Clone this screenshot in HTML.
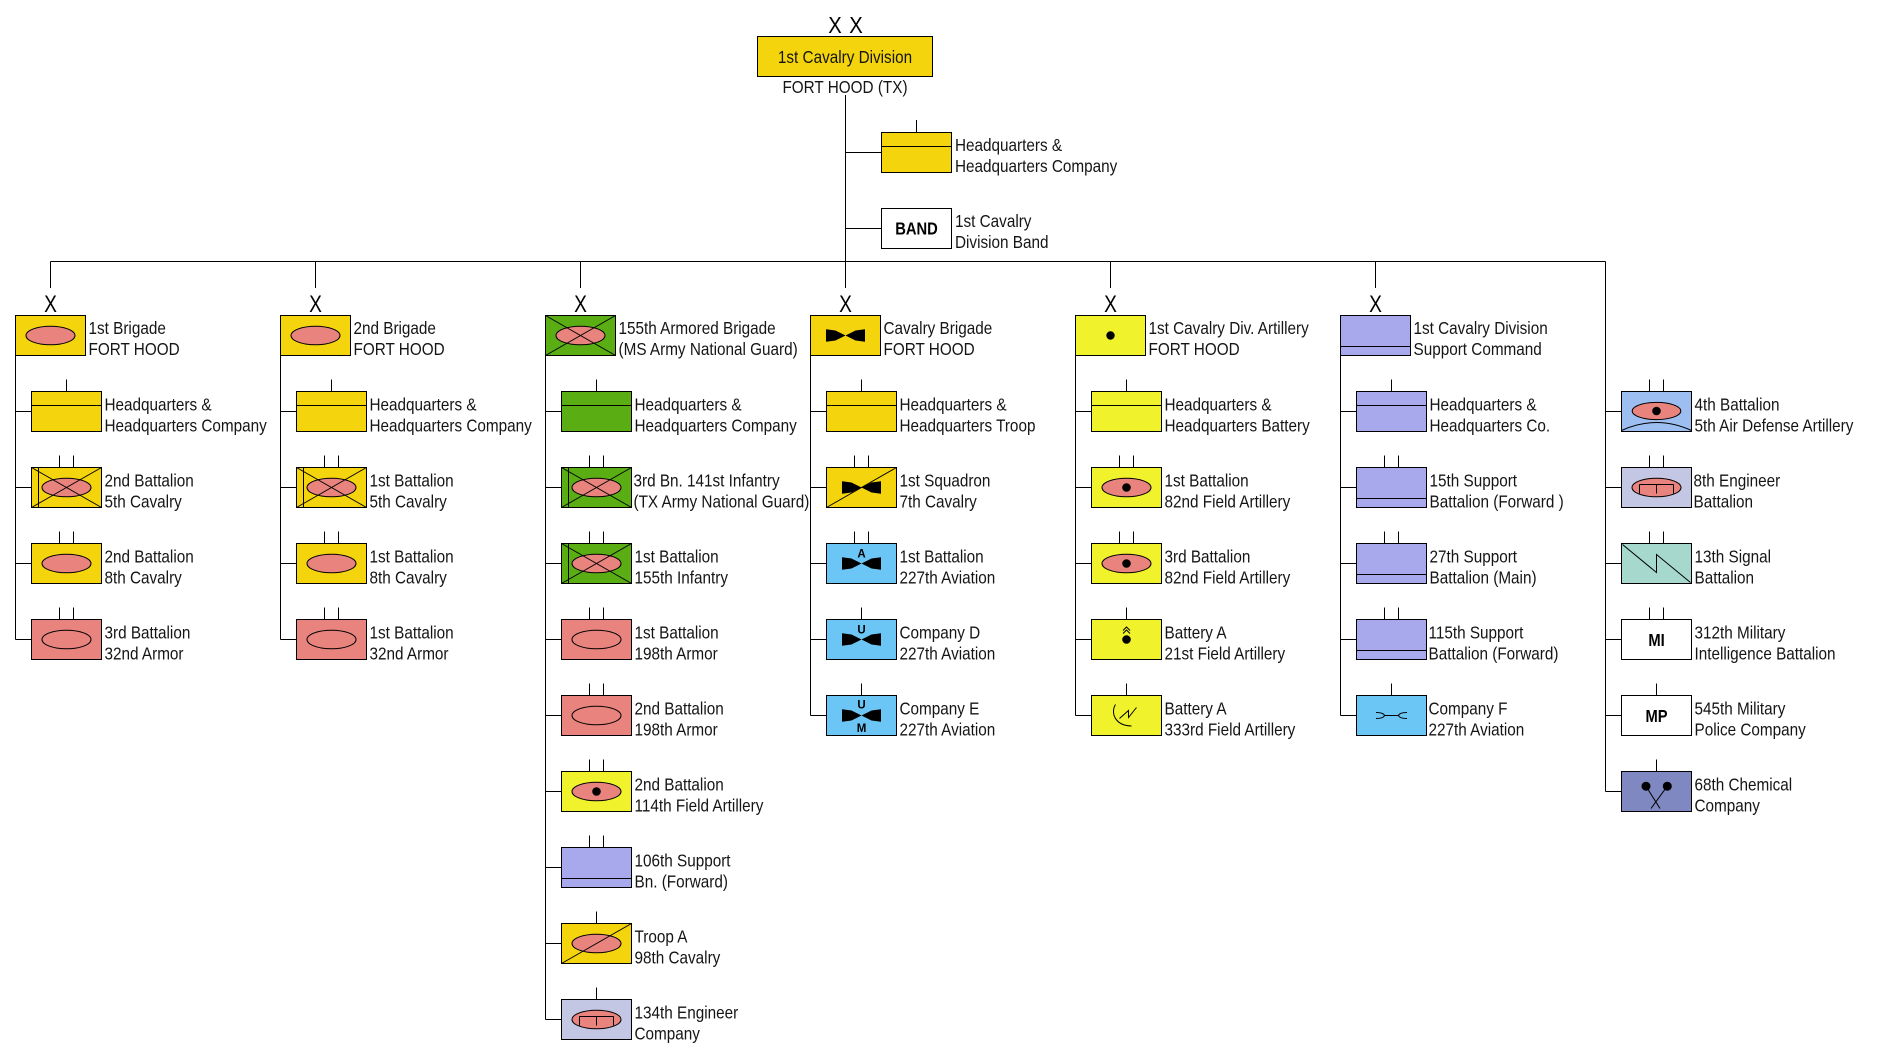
<!DOCTYPE html>
<html><head><meta charset="utf-8"><style>
html,body{margin:0;padding:0;background:#fff;}
svg{display:block;}
rect,line,ellipse,path,polyline{stroke:#000;stroke-width:1;}
line,path,polyline{fill:none;}
.t{font-family:"Liberation Sans",Arial,sans-serif;font-size:18px;fill:#151515;}
.bx{font-family:"Liberation Sans",Arial,sans-serif;font-size:24px;fill:#000;text-anchor:middle;}
.dx{font-family:"Liberation Sans",Arial,sans-serif;font-size:23px;fill:#000;text-anchor:middle;}
.b{font-family:"Liberation Sans",Arial,sans-serif;font-weight:bold;font-size:18px;fill:#000;text-anchor:middle;}
.al{font-family:"Liberation Sans",Arial,sans-serif;font-weight:bold;font-size:11.5px;fill:#000;text-anchor:middle;}
.g{fill:#F4D40C}.l{fill:#F0F22C}.s{fill:#E8837E}.gr{fill:#5AAE14}.lv{fill:#A8A8EC}
.av{fill:#6CC6F5}.ad{fill:#9CBEF0}.en{fill:#C3C7E4}.sg{fill:#A6D8CD}.ch{fill:#7F88C0}.w{fill:#fff}
.bt{fill:#000;stroke:none}
</style></head><body>
<svg width="1879" height="1052" viewBox="0 0 1879 1052" xmlns="http://www.w3.org/2000/svg">

<!-- Division -->
<text class="dx" transform="translate(835 33) scale(.88 1)">X</text>
<text class="dx" transform="translate(856 33) scale(.88 1)">X</text>
<rect x="757.5" y="36.5" width="175" height="40" class="g"/>
<text class="t" text-anchor="middle" transform="translate(845 63) scale(.85 1)">1st Cavalry Division</text>
<text class="t" text-anchor="middle" transform="translate(845 93) scale(.85 1)">FORT HOOD (TX)</text>
<line x1="845.5" y1="95" x2="845.5" y2="288"/>
<line x1="845.5" y1="152.5" x2="881.5" y2="152.5"/>
<line x1="916.5" y1="120" x2="916.5" y2="132.5"/>
<rect x="881.5" y="132.5" width="70" height="40" class="g"/>
<line x1="881.5" y1="146.5" x2="951.5" y2="146.5"/>
<text class="t" transform="translate(955 151) scale(.85 1)"><tspan x="0">Headquarters &amp;</tspan><tspan x="0" dy="21">Headquarters Company</tspan></text>
<line x1="845.5" y1="228.5" x2="881.5" y2="228.5"/>
<rect x="881.5" y="208.5" width="70" height="40" class="w"/>
<text class="b" transform="translate(916.5 234.5) scale(.82 1)">BAND</text>
<text class="t" transform="translate(955 227) scale(.85 1)"><tspan x="0">1st Cavalry</tspan><tspan x="0" dy="21">Division Band</tspan></text>
<line x1="50.5" y1="261.5" x2="1605.5" y2="261.5"/>

<!-- Column 1 -->
<g transform="translate(15.5 0)">
<line x1="35" y1="261.5" x2="35" y2="288"/>
<text class="bx" transform="translate(35 312) scale(.8 1)">X</text>
<rect x="0" y="315.5" width="70" height="40" class="g"/>
<ellipse cx="35" cy="335.5" rx="24.5" ry="9.3" class="s"/>
<text class="t" transform="translate(73 334) scale(.85 1)"><tspan x="0">1st Brigade</tspan><tspan x="0" dy="21">FORT HOOD</tspan></text>
<line x1="0" y1="355.5" x2="0" y2="639.5"/>
<g transform="translate(0 391.5)">
<line x1="0" y1="20" x2="16" y2="20"/><line x1="51" y1="-12" x2="51" y2="0"/>
<rect x="16" y="0" width="70" height="40" class="g"/><line x1="16" y1="14" x2="86" y2="14"/>
<text class="t" transform="translate(89 19) scale(.85 1)"><tspan x="0">Headquarters &amp;</tspan><tspan x="0" dy="21">Headquarters Company</tspan></text>
</g>
<g transform="translate(0 467.5)">
<line x1="0" y1="20" x2="16" y2="20"/><line x1="44" y1="-12" x2="44" y2="0"/><line x1="58" y1="-12" x2="58" y2="0"/>
<rect x="16" y="0" width="70" height="40" class="g"/>
<ellipse cx="51" cy="20" rx="24.5" ry="9.3" class="s"/>
<line x1="16" y1="0" x2="86" y2="40"/><line x1="16" y1="40" x2="86" y2="0"/><line x1="23" y1="0" x2="23" y2="40"/>
<text class="t" transform="translate(89 19) scale(.85 1)"><tspan x="0">2nd Battalion</tspan><tspan x="0" dy="21">5th Cavalry</tspan></text>
</g>
<g transform="translate(0 543.5)">
<line x1="0" y1="20" x2="16" y2="20"/><line x1="44" y1="-12" x2="44" y2="0"/><line x1="58" y1="-12" x2="58" y2="0"/>
<rect x="16" y="0" width="70" height="40" class="g"/>
<ellipse cx="51" cy="20" rx="24.5" ry="9.3" class="s"/>
<text class="t" transform="translate(89 19) scale(.85 1)"><tspan x="0">2nd Battalion</tspan><tspan x="0" dy="21">8th Cavalry</tspan></text>
</g>
<g transform="translate(0 619.5)">
<line x1="0" y1="20" x2="16" y2="20"/><line x1="44" y1="-12" x2="44" y2="0"/><line x1="58" y1="-12" x2="58" y2="0"/>
<rect x="16" y="0" width="70" height="40" class="s"/>
<ellipse cx="51" cy="20" rx="24.5" ry="9.3" class="s"/>
<text class="t" transform="translate(89 19) scale(.85 1)"><tspan x="0">3rd Battalion</tspan><tspan x="0" dy="21">32nd Armor</tspan></text>
</g>
</g>

<!-- Column 2 -->
<g transform="translate(280.5 0)">
<line x1="35" y1="261.5" x2="35" y2="288"/>
<text class="bx" transform="translate(35 312) scale(.8 1)">X</text>
<rect x="0" y="315.5" width="70" height="40" class="g"/>
<ellipse cx="35" cy="335.5" rx="24.5" ry="9.3" class="s"/>
<text class="t" transform="translate(73 334) scale(.85 1)"><tspan x="0">2nd Brigade</tspan><tspan x="0" dy="21">FORT HOOD</tspan></text>
<line x1="0" y1="355.5" x2="0" y2="639.5"/>
<g transform="translate(0 391.5)">
<line x1="0" y1="20" x2="16" y2="20"/><line x1="51" y1="-12" x2="51" y2="0"/>
<rect x="16" y="0" width="70" height="40" class="g"/><line x1="16" y1="14" x2="86" y2="14"/>
<text class="t" transform="translate(89 19) scale(.85 1)"><tspan x="0">Headquarters &amp;</tspan><tspan x="0" dy="21">Headquarters Company</tspan></text>
</g>
<g transform="translate(0 467.5)">
<line x1="0" y1="20" x2="16" y2="20"/><line x1="44" y1="-12" x2="44" y2="0"/><line x1="58" y1="-12" x2="58" y2="0"/>
<rect x="16" y="0" width="70" height="40" class="g"/>
<ellipse cx="51" cy="20" rx="24.5" ry="9.3" class="s"/>
<line x1="16" y1="0" x2="86" y2="40"/><line x1="16" y1="40" x2="86" y2="0"/><line x1="23" y1="0" x2="23" y2="40"/>
<text class="t" transform="translate(89 19) scale(.85 1)"><tspan x="0">1st Battalion</tspan><tspan x="0" dy="21">5th Cavalry</tspan></text>
</g>
<g transform="translate(0 543.5)">
<line x1="0" y1="20" x2="16" y2="20"/><line x1="44" y1="-12" x2="44" y2="0"/><line x1="58" y1="-12" x2="58" y2="0"/>
<rect x="16" y="0" width="70" height="40" class="g"/>
<ellipse cx="51" cy="20" rx="24.5" ry="9.3" class="s"/>
<text class="t" transform="translate(89 19) scale(.85 1)"><tspan x="0">1st Battalion</tspan><tspan x="0" dy="21">8th Cavalry</tspan></text>
</g>
<g transform="translate(0 619.5)">
<line x1="0" y1="20" x2="16" y2="20"/><line x1="44" y1="-12" x2="44" y2="0"/><line x1="58" y1="-12" x2="58" y2="0"/>
<rect x="16" y="0" width="70" height="40" class="s"/>
<ellipse cx="51" cy="20" rx="24.5" ry="9.3" class="s"/>
<text class="t" transform="translate(89 19) scale(.85 1)"><tspan x="0">1st Battalion</tspan><tspan x="0" dy="21">32nd Armor</tspan></text>
</g>
</g>

<!-- Column 3 -->
<g transform="translate(545.5 0)">
<line x1="35" y1="261.5" x2="35" y2="288"/>
<text class="bx" transform="translate(35 312) scale(.8 1)">X</text>
<rect x="0" y="315.5" width="70" height="40" class="gr"/>
<ellipse cx="35" cy="335.5" rx="24.5" ry="9.3" class="s"/>
<line x1="0" y1="315.5" x2="70" y2="355.5"/><line x1="0" y1="355.5" x2="70" y2="315.5"/>
<text class="t" transform="translate(73 334) scale(.85 1)"><tspan x="0">155th Armored Brigade</tspan><tspan x="0" dy="21">(MS Army National Guard)</tspan></text>
<line x1="0" y1="355.5" x2="0" y2="1019.5"/>
<g transform="translate(0 391.5)">
<line x1="0" y1="20" x2="16" y2="20"/><line x1="51" y1="-12" x2="51" y2="0"/>
<rect x="16" y="0" width="70" height="40" class="gr"/><line x1="16" y1="14" x2="86" y2="14"/>
<text class="t" transform="translate(89 19) scale(.85 1)"><tspan x="0">Headquarters &amp;</tspan><tspan x="0" dy="21">Headquarters Company</tspan></text>
</g>
<g transform="translate(0 467.5)">
<line x1="0" y1="20" x2="16" y2="20"/><line x1="44" y1="-12" x2="44" y2="0"/><line x1="58" y1="-12" x2="58" y2="0"/>
<rect x="16" y="0" width="70" height="40" class="gr"/>
<ellipse cx="51" cy="20" rx="24.5" ry="9.3" class="s"/>
<line x1="16" y1="0" x2="86" y2="40"/><line x1="16" y1="40" x2="86" y2="0"/><line x1="23" y1="0" x2="23" y2="40"/>
<text class="t" transform="translate(88 19) scale(.85 1)"><tspan x="0">3rd Bn. 141st Infantry</tspan><tspan x="0" dy="21">(TX Army National Guard)</tspan></text>
</g>
<g transform="translate(0 543.5)">
<line x1="0" y1="20" x2="16" y2="20"/><line x1="44" y1="-12" x2="44" y2="0"/><line x1="58" y1="-12" x2="58" y2="0"/>
<rect x="16" y="0" width="70" height="40" class="gr"/>
<ellipse cx="51" cy="20" rx="24.5" ry="9.3" class="s"/>
<line x1="16" y1="0" x2="86" y2="40"/><line x1="16" y1="40" x2="86" y2="0"/><line x1="23" y1="0" x2="23" y2="40"/>
<text class="t" transform="translate(89 19) scale(.85 1)"><tspan x="0">1st Battalion</tspan><tspan x="0" dy="21">155th Infantry</tspan></text>
</g>
<g transform="translate(0 619.5)">
<line x1="0" y1="20" x2="16" y2="20"/><line x1="44" y1="-12" x2="44" y2="0"/><line x1="58" y1="-12" x2="58" y2="0"/>
<rect x="16" y="0" width="70" height="40" class="s"/>
<ellipse cx="51" cy="20" rx="24.5" ry="9.3" class="s"/>
<text class="t" transform="translate(89 19) scale(.85 1)"><tspan x="0">1st Battalion</tspan><tspan x="0" dy="21">198th Armor</tspan></text>
</g>
<g transform="translate(0 695.5)">
<line x1="0" y1="20" x2="16" y2="20"/><line x1="44" y1="-12" x2="44" y2="0"/><line x1="58" y1="-12" x2="58" y2="0"/>
<rect x="16" y="0" width="70" height="40" class="s"/>
<ellipse cx="51" cy="20" rx="24.5" ry="9.3" class="s"/>
<text class="t" transform="translate(89 19) scale(.85 1)"><tspan x="0">2nd Battalion</tspan><tspan x="0" dy="21">198th Armor</tspan></text>
</g>
<g transform="translate(0 771.5)">
<line x1="0" y1="20" x2="16" y2="20"/><line x1="44" y1="-12" x2="44" y2="0"/><line x1="58" y1="-12" x2="58" y2="0"/>
<rect x="16" y="0" width="70" height="40" class="l"/>
<ellipse cx="51" cy="20" rx="24.5" ry="9.3" class="s"/>
<circle cx="51" cy="20" r="4.3" fill="#000"/>
<text class="t" transform="translate(89 19) scale(.85 1)"><tspan x="0">2nd Battalion</tspan><tspan x="0" dy="21">114th Field Artillery</tspan></text>
</g>
<g transform="translate(0 847.5)">
<line x1="0" y1="20" x2="16" y2="20"/><line x1="44" y1="-12" x2="44" y2="0"/><line x1="58" y1="-12" x2="58" y2="0"/>
<rect x="16" y="0" width="70" height="40" class="lv"/><line x1="16" y1="31" x2="86" y2="31"/>
<text class="t" transform="translate(89 19) scale(.85 1)"><tspan x="0">106th Support</tspan><tspan x="0" dy="21">Bn. (Forward)</tspan></text>
</g>
<g transform="translate(0 923.5)">
<line x1="0" y1="20" x2="16" y2="20"/><line x1="51" y1="-12" x2="51" y2="0"/>
<rect x="16" y="0" width="70" height="40" class="g"/>
<ellipse cx="51" cy="20" rx="24.5" ry="9.3" class="s"/>
<line x1="16" y1="40" x2="86" y2="0"/>
<text class="t" transform="translate(89 19) scale(.85 1)"><tspan x="0">Troop A</tspan><tspan x="0" dy="21">98th Cavalry</tspan></text>
</g>
<g transform="translate(0 999.5)">
<line x1="0" y1="20" x2="16" y2="20"/><line x1="51" y1="-12" x2="51" y2="0"/>
<rect x="16" y="0" width="70" height="40" class="en"/>
<ellipse cx="51" cy="20" rx="24.5" ry="9.3" class="s"/>
<path d="M34 17 H68 M34 17 V26 M51 17 V26 M68 17 V26"/>
<text class="t" transform="translate(89 19) scale(.85 1)"><tspan x="0">134th Engineer</tspan><tspan x="0" dy="21">Company</tspan></text>
</g>
</g>

<!-- Column 4 -->
<g transform="translate(810.5 0)">
<text class="bx" transform="translate(35 312) scale(.8 1)">X</text>
<rect x="0" y="315.5" width="70" height="40" class="g"/>
<path class="bt" d="M15.5 329.2 L25 330.5 L35 335.5 L25 340.5 L15.5 341.8 Z M54.5 329.2 L45 330.5 L35 335.5 L45 340.5 L54.5 341.8 Z"/>
<text class="t" transform="translate(73 334) scale(.85 1)"><tspan x="0">Cavalry Brigade</tspan><tspan x="0" dy="21">FORT HOOD</tspan></text>
<line x1="0" y1="355.5" x2="0" y2="715.5"/>
<g transform="translate(0 391.5)">
<line x1="0" y1="20" x2="16" y2="20"/><line x1="51" y1="-12" x2="51" y2="0"/>
<rect x="16" y="0" width="70" height="40" class="g"/><line x1="16" y1="14" x2="86" y2="14"/>
<text class="t" transform="translate(89 19) scale(.85 1)"><tspan x="0">Headquarters &amp;</tspan><tspan x="0" dy="21">Headquarters Troop</tspan></text>
</g>
<g transform="translate(0 467.5)">
<line x1="0" y1="20" x2="16" y2="20"/><line x1="44" y1="-12" x2="44" y2="0"/><line x1="58" y1="-12" x2="58" y2="0"/>
<rect x="16" y="0" width="70" height="40" class="g"/>
<path class="bt" d="M31.5 13.7 L41 15 L51 20 L41 25 L31.5 26.3 Z M70.5 13.7 L61 15 L51 20 L61 25 L70.5 26.3 Z"/>
<line x1="16" y1="40" x2="86" y2="0"/>
<text class="t" transform="translate(89 19) scale(.85 1)"><tspan x="0">1st Squadron</tspan><tspan x="0" dy="21">7th Cavalry</tspan></text>
</g>
<g transform="translate(0 543.5)">
<line x1="0" y1="20" x2="16" y2="20"/><line x1="44" y1="-12" x2="44" y2="0"/><line x1="58" y1="-12" x2="58" y2="0"/>
<rect x="16" y="0" width="70" height="40" class="av"/>
<path class="bt" d="M31.5 13.7 L41 15 L51 20 L41 25 L31.5 26.3 Z M70.5 13.7 L61 15 L51 20 L61 25 L70.5 26.3 Z"/>
<text class="al" x="51" y="14">A</text>
<text class="t" transform="translate(89 19) scale(.85 1)"><tspan x="0">1st Battalion</tspan><tspan x="0" dy="21">227th Aviation</tspan></text>
</g>
<g transform="translate(0 619.5)">
<line x1="0" y1="20" x2="16" y2="20"/><line x1="51" y1="-12" x2="51" y2="0"/>
<rect x="16" y="0" width="70" height="40" class="av"/>
<path class="bt" d="M31.5 13.7 L41 15 L51 20 L41 25 L31.5 26.3 Z M70.5 13.7 L61 15 L51 20 L61 25 L70.5 26.3 Z"/>
<text class="al" x="51" y="14">U</text>
<text class="t" transform="translate(89 19) scale(.85 1)"><tspan x="0">Company D</tspan><tspan x="0" dy="21">227th Aviation</tspan></text>
</g>
<g transform="translate(0 695.5)">
<line x1="0" y1="20" x2="16" y2="20"/><line x1="51" y1="-12" x2="51" y2="0"/>
<rect x="16" y="0" width="70" height="40" class="av"/>
<path class="bt" d="M31.5 13.7 L41 15 L51 20 L41 25 L31.5 26.3 Z M70.5 13.7 L61 15 L51 20 L61 25 L70.5 26.3 Z"/>
<text class="al" x="51" y="13">U</text>
<text class="al" x="51" y="36.5">M</text>
<text class="t" transform="translate(89 19) scale(.85 1)"><tspan x="0">Company E</tspan><tspan x="0" dy="21">227th Aviation</tspan></text>
</g>
</g>

<!-- Column 5 -->
<g transform="translate(1075.5 0)">
<line x1="35" y1="261.5" x2="35" y2="288"/>
<text class="bx" transform="translate(35 312) scale(.8 1)">X</text>
<rect x="0" y="315.5" width="70" height="40" class="l"/>
<circle cx="35" cy="335.5" r="4.2" fill="#000"/>
<text class="t" transform="translate(73 334) scale(.85 1)"><tspan x="0">1st Cavalry Div. Artillery</tspan><tspan x="0" dy="21">FORT HOOD</tspan></text>
<line x1="0" y1="355.5" x2="0" y2="715.5"/>
<g transform="translate(0 391.5)">
<line x1="0" y1="20" x2="16" y2="20"/><line x1="51" y1="-12" x2="51" y2="0"/>
<rect x="16" y="0" width="70" height="40" class="l"/><line x1="16" y1="14" x2="86" y2="14"/>
<text class="t" transform="translate(89 19) scale(.85 1)"><tspan x="0">Headquarters &amp;</tspan><tspan x="0" dy="21">Headquarters Battery</tspan></text>
</g>
<g transform="translate(0 467.5)">
<line x1="0" y1="20" x2="16" y2="20"/><line x1="44" y1="-12" x2="44" y2="0"/><line x1="58" y1="-12" x2="58" y2="0"/>
<rect x="16" y="0" width="70" height="40" class="l"/>
<ellipse cx="51" cy="20" rx="24.5" ry="9.3" class="s"/>
<circle cx="51" cy="20" r="4.3" fill="#000"/>
<text class="t" transform="translate(89 19) scale(.85 1)"><tspan x="0">1st Battalion</tspan><tspan x="0" dy="21">82nd Field Artillery</tspan></text>
</g>
<g transform="translate(0 543.5)">
<line x1="0" y1="20" x2="16" y2="20"/><line x1="44" y1="-12" x2="44" y2="0"/><line x1="58" y1="-12" x2="58" y2="0"/>
<rect x="16" y="0" width="70" height="40" class="l"/>
<ellipse cx="51" cy="20" rx="24.5" ry="9.3" class="s"/>
<circle cx="51" cy="20" r="4.3" fill="#000"/>
<text class="t" transform="translate(89 19) scale(.85 1)"><tspan x="0">3rd Battalion</tspan><tspan x="0" dy="21">82nd Field Artillery</tspan></text>
</g>
<g transform="translate(0 619.5)">
<line x1="0" y1="20" x2="16" y2="20"/><line x1="51" y1="-12" x2="51" y2="0"/>
<rect x="16" y="0" width="70" height="40" class="l"/>
<path d="M47.5 11 L51 7.5 L54.5 11 M47.5 14 L51 10.5 L54.5 14"/>
<circle cx="51" cy="20" r="4.3" fill="#000"/>
<text class="t" transform="translate(89 19) scale(.85 1)"><tspan x="0">Battery A</tspan><tspan x="0" dy="21">21st Field Artillery</tspan></text>
</g>
<g transform="translate(0 695.5)">
<line x1="0" y1="20" x2="16" y2="20"/><line x1="51" y1="-12" x2="51" y2="0"/>
<rect x="16" y="0" width="70" height="40" class="l"/>
<path d="M40 9 C35 17 39 30 56 30.5"/>
<polyline points="44,23 53,15 53,22 61,12"/>
<text class="t" transform="translate(89 19) scale(.85 1)"><tspan x="0">Battery A</tspan><tspan x="0" dy="21">333rd Field Artillery</tspan></text>
</g>
</g>

<!-- Column 6 -->
<g transform="translate(1340.5 0)">
<line x1="35" y1="261.5" x2="35" y2="288"/>
<text class="bx" transform="translate(35 312) scale(.8 1)">X</text>
<rect x="0" y="315.5" width="70" height="40" class="lv"/>
<line x1="0" y1="346.5" x2="70" y2="346.5"/>
<text class="t" transform="translate(73 334) scale(.85 1)"><tspan x="0">1st Cavalry Division</tspan><tspan x="0" dy="21">Support Command</tspan></text>
<line x1="0" y1="355.5" x2="0" y2="715.5"/>
<g transform="translate(0 391.5)">
<line x1="0" y1="20" x2="16" y2="20"/><line x1="51" y1="-12" x2="51" y2="0"/>
<rect x="16" y="0" width="70" height="40" class="lv"/><line x1="16" y1="14" x2="86" y2="14"/>
<text class="t" transform="translate(89 19) scale(.85 1)"><tspan x="0">Headquarters &amp;</tspan><tspan x="0" dy="21">Headquarters Co.</tspan></text>
</g>
<g transform="translate(0 467.5)">
<line x1="0" y1="20" x2="16" y2="20"/><line x1="44" y1="-12" x2="44" y2="0"/><line x1="58" y1="-12" x2="58" y2="0"/>
<rect x="16" y="0" width="70" height="40" class="lv"/><line x1="16" y1="31" x2="86" y2="31"/>
<text class="t" transform="translate(89 19) scale(.85 1)"><tspan x="0">15th Support</tspan><tspan x="0" dy="21">Battalion (Forward )</tspan></text>
</g>
<g transform="translate(0 543.5)">
<line x1="0" y1="20" x2="16" y2="20"/><line x1="44" y1="-12" x2="44" y2="0"/><line x1="58" y1="-12" x2="58" y2="0"/>
<rect x="16" y="0" width="70" height="40" class="lv"/><line x1="16" y1="31" x2="86" y2="31"/>
<text class="t" transform="translate(89 19) scale(.85 1)"><tspan x="0">27th Support</tspan><tspan x="0" dy="21">Battalion (Main)</tspan></text>
</g>
<g transform="translate(0 619.5)">
<line x1="0" y1="20" x2="16" y2="20"/><line x1="44" y1="-12" x2="44" y2="0"/><line x1="58" y1="-12" x2="58" y2="0"/>
<rect x="16" y="0" width="70" height="40" class="lv"/><line x1="16" y1="31" x2="86" y2="31"/>
<text class="t" transform="translate(88 19) scale(.85 1)"><tspan x="0">115th Support</tspan><tspan x="0" dy="21">Battalion (Forward)</tspan></text>
</g>
<g transform="translate(0 695.5)">
<line x1="0" y1="20" x2="16" y2="20"/><line x1="51" y1="-12" x2="51" y2="0"/>
<rect x="16" y="0" width="70" height="40" class="av"/>
<path d="M35.5 17 Q43 17 44 20 Q43 23 35.5 23 M66.5 17 Q59 17 58 20 Q59 23 66.5 23 M44 20 H58"/>
<text class="t" transform="translate(88 19) scale(.85 1)"><tspan x="0">Company F</tspan><tspan x="0" dy="21">227th Aviation</tspan></text>
</g>
</g>

<!-- Column 7 -->
<g transform="translate(1605.5 0)">
<line x1="0" y1="261.5" x2="0" y2="791.5"/>
<g transform="translate(0 391.5)">
<line x1="0" y1="20" x2="16" y2="20"/><line x1="44" y1="-12" x2="44" y2="0"/><line x1="58" y1="-12" x2="58" y2="0"/>
<rect x="16" y="0" width="70" height="40" class="ad"/>
<path d="M16 39 Q51 23 86 39" stroke="#3a2a10"/>
<ellipse cx="51" cy="19.5" rx="24.3" ry="8.6" class="s"/>
<circle cx="51" cy="19.5" r="4.3" fill="#000"/>
<text class="t" transform="translate(89 19) scale(.85 1)"><tspan x="0">4th Battalion</tspan><tspan x="0" dy="21">5th Air Defense Artillery</tspan></text>
</g>
<g transform="translate(0 467.5)">
<line x1="0" y1="20" x2="16" y2="20"/><line x1="44" y1="-12" x2="44" y2="0"/><line x1="58" y1="-12" x2="58" y2="0"/>
<rect x="16" y="0" width="70" height="40" class="en"/>
<ellipse cx="51" cy="20" rx="24.5" ry="9.3" class="s"/>
<path d="M34 17 H68 M34 17 V26 M51 17 V26 M68 17 V26"/>
<text class="t" transform="translate(88 19) scale(.85 1)"><tspan x="0">8th Engineer</tspan><tspan x="0" dy="21">Battalion</tspan></text>
</g>
<g transform="translate(0 543.5)">
<line x1="0" y1="20" x2="16" y2="20"/><line x1="44" y1="-12" x2="44" y2="0"/><line x1="58" y1="-12" x2="58" y2="0"/>
<rect x="16" y="0" width="70" height="40" class="sg"/>
<polyline points="17,1 51,29 51,11 85,39"/>
<text class="t" transform="translate(89 19) scale(.85 1)"><tspan x="0">13th Signal</tspan><tspan x="0" dy="21">Battalion</tspan></text>
</g>
<g transform="translate(0 619.5)">
<line x1="0" y1="20" x2="16" y2="20"/><line x1="44" y1="-12" x2="44" y2="0"/><line x1="58" y1="-12" x2="58" y2="0"/>
<rect x="16" y="0" width="70" height="40" class="w"/>
<text class="b" transform="translate(51 26.5) scale(.82 1)">MI</text>
<text class="t" transform="translate(89 19) scale(.85 1)"><tspan x="0">312th Military</tspan><tspan x="0" dy="21">Intelligence Battalion</tspan></text>
</g>
<g transform="translate(0 695.5)">
<line x1="0" y1="20" x2="16" y2="20"/><line x1="51" y1="-12" x2="51" y2="0"/>
<rect x="16" y="0" width="70" height="40" class="w"/>
<text class="b" transform="translate(51 26.5) scale(.82 1)">MP</text>
<text class="t" transform="translate(89 19) scale(.85 1)"><tspan x="0">545th Military</tspan><tspan x="0" dy="21">Police Company</tspan></text>
</g>
<g transform="translate(0 771.5)">
<line x1="0" y1="20" x2="16" y2="20"/><line x1="51" y1="-12" x2="51" y2="0"/>
<rect x="16" y="0" width="70" height="40" class="ch"/>
<line x1="40.5" y1="14.7" x2="54.5" y2="37"/><line x1="61.8" y1="14.7" x2="45.5" y2="37"/>
<circle cx="40.5" cy="14.7" r="4.5" fill="#000"/><circle cx="61.8" cy="14.7" r="4.5" fill="#000"/>
<text class="t" transform="translate(89 19) scale(.85 1)"><tspan x="0">68th Chemical</tspan><tspan x="0" dy="21">Company</tspan></text>
</g>
</g>
</svg>
</body></html>
